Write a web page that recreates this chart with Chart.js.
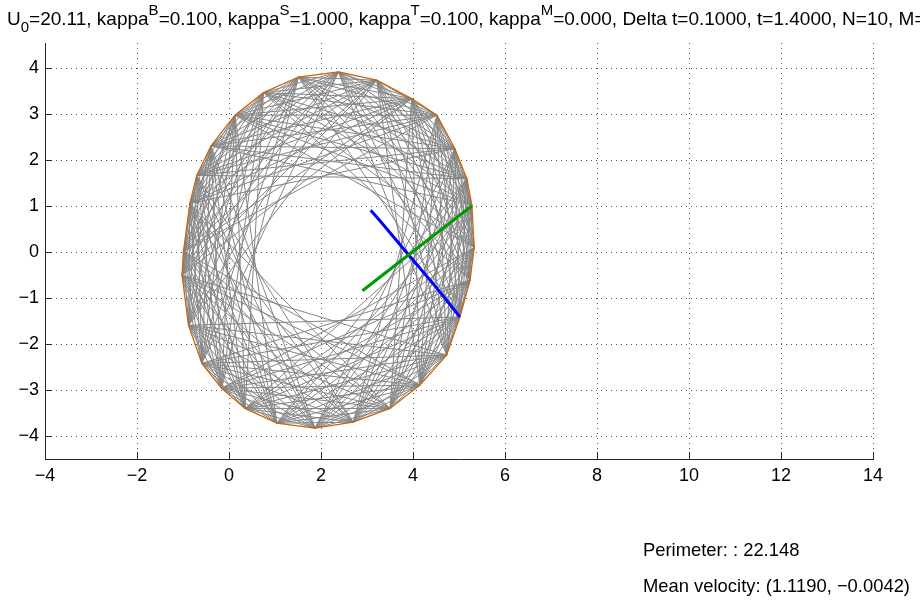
<!DOCTYPE html>
<html>
<head>
<meta charset="utf-8">
<script src="https://cdn.jsdelivr.net/npm/chart.js@4.4.0/dist/chart.umd.min.js"></script>
<style>
  html, body { margin: 0; padding: 0; background: #fff; }
</style>
</head>
<body>
<canvas id="membraneChart" width="920" height="605"></canvas>
<script>
// boundary of the cell (counter-clockwise from the top)
const boundaryX = [2.38, 1.51, 0.75, 0.13, -0.39, -0.70, -0.85, -0.99, -1.02, -0.88, -0.59, -0.16, 0.35, 1.04,
                   1.87, 2.70, 3.50, 4.15, 4.73, 5.02, 5.24, 5.33, 5.28, 5.17, 4.91, 4.52, 3.97, 3.21]
const boundaryY = [3.92, 3.81, 3.47, 2.98, 2.31, 1.67, 1.06, 0.01, -0.50, -1.59, -2.42, -2.96, -3.40, -3.72,
                   -3.83, -3.70, -3.40, -2.89, -2.24, -1.41, -0.61, 0.10, 1.02, 1.60, 2.25, 2.98, 3.34, 3.74]

// the fibres join boundary points this many places apart
const chordSteps = [2, 3, 4, 5, 6, 7, 8, 9, 10]

// blue and green axes
const blueX = [3.08, 3.30, 3.88, 4.50, 5.02]
const blueY = [0.91, 0.66, -0.03, -0.76, -1.41]
const greenX = [2.90, 5.28]
const greenY = [-0.84, 1.01]

const xTicks = [-4, -2, 0, 2, 4, 6, 8, 10, 12, 14]
const yTicks = [-4, -3, -2, -1, 0, 1, 2, 3, 4]

const titleParts = [
    ['U', ''], ['0', 'sub'], ['=20.11, kappa', ''], ['B', 'sup'], ['=0.100, kappa', ''], ['S', 'sup'],
    ['=1.000, kappa', ''], ['T', 'sup'], ['=0.100, kappa', ''], ['M', 'sup'],
    ['=0.000, Delta t=0.1000, t=1.4000, N=10, M=3', '']
]
const footerLines = ['Perimeter: : 22.148', 'Mean velocity: (1.1190, \u22120.0042)']

const FONT = "'Liberation Sans', Arial, Helvetica, sans-serif"

const toPoints = (xs, ys) => xs.map((x, i) => ({ x: x, y: ys[i] }))
const boundary = toPoints(boundaryX, boundaryY)

const chordSets = []
boundary.forEach((p, i) => {
    chordSteps.forEach(step => {
        const q = boundary[(i + step) % boundary.length]
        chordSets.push({
            data: [p, q],
            showLine: true,
            borderColor: '#858585',
            borderWidth: 1,
            pointRadius: 0,
            order: 3
        })
    })
})

const datasets = [
    {
        label: 'green',
        data: toPoints(greenX, greenY),
        showLine: true,
        borderColor: '#009a00',
        borderWidth: 3,
        pointRadius: 0,
        order: 0
    },
    {
        label: 'blue',
        data: toPoints(blueX, blueY),
        showLine: true,
        borderColor: '#0000ff',
        borderWidth: 3,
        pointRadius: 0,
        order: 1
    },
    {
        label: 'boundary',
        data: boundary.concat([boundary[0]]),
        showLine: true,
        borderColor: '#c8650a',
        borderWidth: 1.3,
        pointRadius: 0,
        order: 2
    }
].concat(chordSets)

const fmt = v => String(v).replace('-', '\u2212')

// inward ticks, title with sub/superscripts and the notes under the axes
const extras = {
    id: 'extras',
    afterDraw(chart) {
        const ctx = chart.ctx
        const { x, y } = chart.scales
        const area = chart.chartArea
        ctx.save()
        ctx.strokeStyle = '#262626'
        ctx.lineWidth = 1
        ctx.beginPath()
        xTicks.forEach(v => {
            const px = Math.round(x.getPixelForValue(v)) + 0.5
            ctx.moveTo(px, area.bottom)
            ctx.lineTo(px, area.bottom - 7)
        })
        yTicks.forEach(v => {
            const py = Math.round(y.getPixelForValue(v)) + 0.5
            ctx.moveTo(area.left, py)
            ctx.lineTo(area.left + 7, py)
        })
        ctx.stroke()

        ctx.fillStyle = '#000'
        ctx.textBaseline = 'alphabetic'
        ctx.textAlign = 'left'
        let tx = 7
        titleParts.forEach(([txt, kind]) => {
            if (kind === '') {
                ctx.font = '19px ' + FONT
                ctx.fillText(txt, tx, 25)
            } else {
                ctx.font = '15px ' + FONT
                ctx.fillText(txt, tx, kind === 'sub' ? 32 : 15)
            }
            tx += ctx.measureText(txt).width
        })

        ctx.font = '18.4px ' + FONT
        ctx.fillText(footerLines[0], 643, 556)
        ctx.fillText(footerLines[1], 643, 592)
        ctx.restore()
    }
}

const ctx = document.getElementById('membraneChart')
new Chart(ctx, {
    type: 'scatter',
    data: { datasets: datasets },
    plugins: [extras],
    options: {
        responsive: false,
        devicePixelRatio: 1,
        animation: false,
        events: [],
        layout: { padding: { top: 43, right: 47, bottom: 0, left: 0 } },
        elements: { line: { tension: 0, fill: false } },
        plugins: {
            legend: { display: false },
            tooltip: { enabled: false }
        },
        scales: {
            x: {
                type: 'linear',
                min: -4,
                max: 14,
                afterFit: s => { s.height = 146 },
                afterBuildTicks: s => { s.ticks = xTicks.map(v => ({ value: v })) },
                ticks: {
                    padding: 6,
                    color: '#000',
                    maxRotation: 0,
                    autoSkip: false,
                    font: { family: FONT, size: 18 },
                    callback: v => fmt(v)
                },
                grid: { color: '#555', lineWidth: 1, drawTicks: false },
                border: { display: true, color: '#262626', width: 1, dash: [1, 4] }
            },
            y: {
                type: 'linear',
                min: -4.5,
                max: 4.55,
                afterFit: s => { s.width = 45 },
                afterBuildTicks: s => { s.ticks = yTicks.map(v => ({ value: v })) },
                ticks: {
                    padding: 6,
                    color: '#000',
                    autoSkip: false,
                    font: { family: FONT, size: 18 },
                    callback: v => fmt(v)
                },
                grid: { color: '#555', lineWidth: 1, drawTicks: false },
                border: { display: true, color: '#262626', width: 1, dash: [1, 4] }
            }
        }
    }
})
</script>
</body>
</html>
